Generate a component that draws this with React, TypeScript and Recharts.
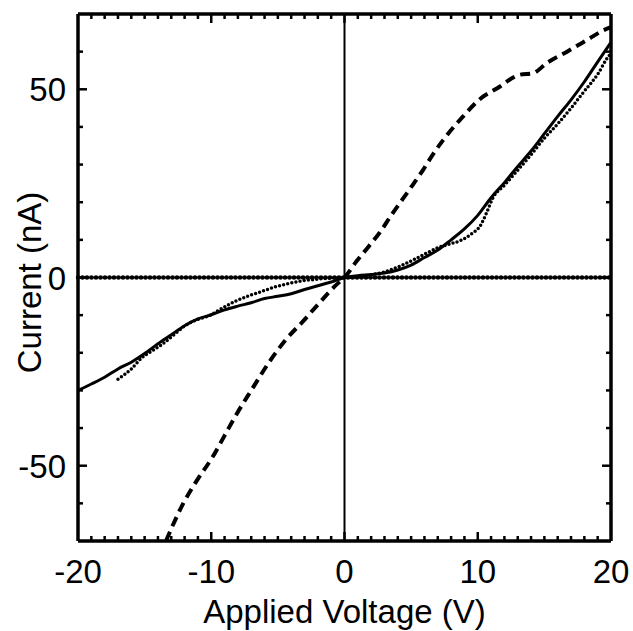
import React from 'react';
import { LineChart, Line, XAxis, YAxis, ReferenceLine } from 'recharts';

// Solid curve (V, nA)
const solidV = [-20, -19, -18, -17, -16, -15, -14, -13, -12, -11, -10, -9, -8, -7, -6, -5, -4, -3, -2, -1, 0, 1, 2, 3, 4, 5, 6, 7, 8, 9, 10, 11, 12, 13, 14, 15, 16, 17, 18, 19, 20];
const solidI = [-30, -28.3, -26.5, -24.3, -22.5, -20.2, -17.6, -15.2, -12.8, -11.0, -9.9, -8.6, -7.6, -6.7, -5.6, -5.0, -4.3, -3.2, -2.2, -1.2, 0, 0.5, 0.8, 1.2, 2.0, 3.3, 5.3, 7.3, 10.0, 12.9, 16.5, 21.2, 25.2, 29.5, 33.6, 38.2, 42.8, 47.2, 52.0, 57.3, 62.5];

// Fine-dotted curve
const dottedV = [-17, -16, -15.2, -14.5, -13.7, -12.8, -12, -11, -10.2, -9.2, -8.2, -7.2, -6.2, -5.2, -4.2, -3.2, -2.2, -1.2, 0, 1, 2, 3, 4, 5, 6, 7, 8, 8.7, 9.5, 10.2, 10.7, 11.1, 12, 13, 14, 15, 16, 17, 18, 19, 19.8, 20];
const dottedI = [-27.0, -24.3, -21.3, -19.6, -17.8, -15.2, -12.9, -11.1, -10.2, -8.2, -6.3, -4.9, -3.7, -2.5, -1.6, -0.9, -0.5, -0.2, 0, 0.2, 0.7, 1.5, 2.8, 4.4, 6.2, 7.9, 9.0, 9.8, 11.5, 13.8, 17.5, 20.9, 24.5, 28.5, 32.6, 37.0, 40.8, 45.0, 49.5, 54.0, 58.7, 59.5];

// Dashed curve
const dashedV = [-13.4, -12.1, -11, -9.9, -9, -8.1, -7, -5.6, -4.4, -3.1, -2, -0.6, 0, 0.9, 1.8, 2.7, 3.5, 4.4, 5.1, 5.9, 6.6, 7.4, 8.7, 10.2, 11.7, 12.5, 13.2, 14.1, 15.2, 16.7, 18.2, 19.5, 20];
const dashedI = [-70, -60, -53.5, -47.7, -42, -36.3, -30, -22.2, -16.5, -11.6, -7.2, -1.9, 0, 4.3, 8.2, 12.2, 16.5, 21, 24.5, 28.6, 32.5, 36.5, 42, 47.5, 50.8, 52.8, 53.9, 54.2, 57, 60, 63.1, 65.8, 66.5];

// Zero-current baseline (beaded)
const zeroV = [-20, 20];
const zeroI = [0, 0];

// Axis ticks
const xMajor = [-20, -10, 0, 10, 20];
const xTicks = [-20, -19, -18, -17, -16, -15, -14, -13, -12, -11, -10, -9, -8, -7, -6, -5, -4, -3, -2, -1, 0, 1, 2, 3, 4, 5, 6, 7, 8, 9, 10, 11, 12, 13, 14, 15, 16, 17, 18, 19, 20];
const yMajor = [-50, 0, 50];
const yTicks = [-60, -50, -40, -30, -20, -10, 0, 10, 20, 30, 40, 50, 60];

const X_DOMAIN: [number, number] = [-20, 20];
const Y_DOMAIN: [number, number] = [-70, 70];

const FONT = '"Liberation Sans", Arial, Helvetica, sans-serif';
const W = 633;
const H = 631;
const M = { top: 10, right: 18, bottom: 30, left: 18 };
const PLOT_LEFT = 78;
const PLOT_RIGHT = 611;
const PLOT_TOP = 14;
const PLOT_BOTTOM = 541;

// tick lengths in pixels converted to data units of each axis
const PX_PER_V = (PLOT_RIGHT - PLOT_LEFT) / (X_DOMAIN[1] - X_DOMAIN[0]);
const PX_PER_NA = (PLOT_BOTTOM - PLOT_TOP) / (Y_DOMAIN[1] - Y_DOMAIN[0]);
const MAJOR_LEN = 9;
const MINOR_LEN = 5;

const zip = (vs: number[], is: number[]) => vs.map((v, k) => ({ v, i: is[k] }));
const solidData = zip(solidV, solidI);
const dottedData = zip(dottedV, dottedI);
const dashedData = zip(dashedV, dashedI);
const zeroData = zip(zeroV, zeroI);

const TW = 2.5;

const BottomLabel = (props: any) => {
  const { x, y, payload } = props;
  if (!xMajor.includes(payload.value)) return <g />;
  return (
    <text x={x} y={y + 42} textAnchor="middle" fontSize={33} fontFamily={FONT} fill="#000">
      {payload.value}
    </text>
  );
};

const LeftLabel = (props: any) => {
  const { x, y, payload } = props;
  if (!yMajor.includes(payload.value)) return <g />;
  return (
    <text x={x - 12} y={y + 12} textAnchor="end" fontSize={33} fontFamily={FONT} fill="#000">
      {payload.value}
    </text>
  );
};

const axisLine = { stroke: '#000', strokeWidth: 3.5 };

export default function App() {
  const plotCx = (PLOT_LEFT + PLOT_RIGHT) / 2;
  const plotCy = (PLOT_TOP + PLOT_BOTTOM) / 2;

  const xTickMarks = xTicks
    .filter((v) => v > X_DOMAIN[0] && v < X_DOMAIN[1])
    .flatMap((v) => {
      const d = (xMajor.includes(v) ? MAJOR_LEN : MINOR_LEN) / PX_PER_NA;
      return [
        <ReferenceLine
          key={`xb${v}`}
          xAxisId="b"
          yAxisId="l"
          segment={[{ x: v, y: Y_DOMAIN[0] }, { x: v, y: Y_DOMAIN[0] + d }]}
          stroke="#000"
          strokeWidth={TW}
          ifOverflow="visible"
        />,
        <ReferenceLine
          key={`xt${v}`}
          xAxisId="b"
          yAxisId="l"
          segment={[{ x: v, y: Y_DOMAIN[1] }, { x: v, y: Y_DOMAIN[1] - d }]}
          stroke="#000"
          strokeWidth={TW}
          ifOverflow="visible"
        />,
      ];
    });

  const yTickMarks = yTicks.flatMap((v) => {
    const d = (yMajor.includes(v) ? MAJOR_LEN : MINOR_LEN) / PX_PER_V;
    return [
      <ReferenceLine
        key={`yl${v}`}
        xAxisId="b"
        yAxisId="l"
        segment={[{ x: X_DOMAIN[0], y: v }, { x: X_DOMAIN[0] + d, y: v }]}
        stroke="#000"
        strokeWidth={TW}
        ifOverflow="visible"
      />,
      <ReferenceLine
        key={`yr${v}`}
        xAxisId="b"
        yAxisId="l"
        segment={[{ x: X_DOMAIN[1], y: v }, { x: X_DOMAIN[1] - d, y: v }]}
        stroke="#000"
        strokeWidth={TW}
        ifOverflow="visible"
      />,
    ];
  });

  return (
    <div style={{ position: 'absolute', left: 0, top: 0, width: W, height: H, background: '#fff' }}>
      <LineChart width={W} height={H} margin={M}>
        <XAxis
          xAxisId="b"
          type="number"
          dataKey="v"
          domain={X_DOMAIN}
          ticks={xTicks}
          interval={0}
          orientation="bottom"
          height={H - M.bottom - PLOT_BOTTOM}
          tickSize={0}
          tickMargin={0}
          tickLine={false}
          axisLine={axisLine}
          tick={<BottomLabel />}
        />
        <XAxis
          xAxisId="t"
          type="number"
          dataKey="v"
          domain={X_DOMAIN}
          orientation="top"
          height={PLOT_TOP - M.top}
          tickLine={false}
          tick={false}
          axisLine={axisLine}
        />
        <YAxis
          yAxisId="l"
          type="number"
          domain={Y_DOMAIN}
          ticks={yTicks}
          interval={0}
          orientation="left"
          width={PLOT_LEFT - M.left}
          tickSize={0}
          tickMargin={0}
          tickLine={false}
          axisLine={axisLine}
          tick={<LeftLabel />}
        />
        <YAxis
          yAxisId="r"
          type="number"
          domain={Y_DOMAIN}
          orientation="right"
          width={W - M.right - PLOT_RIGHT}
          tickLine={false}
          tick={false}
          axisLine={axisLine}
        />
        {xTickMarks}
        {yTickMarks}
        <ReferenceLine xAxisId="b" yAxisId="l" x={0} stroke="#000" strokeWidth={2} />
        <ReferenceLine xAxisId="t" yAxisId="r" y={0} stroke="#000" strokeWidth={2} />
        <Line
          xAxisId="t"
          yAxisId="r"
          data={zeroData}
          dataKey="i"
          type="linear"
          stroke="#000"
          strokeWidth={4.5}
          strokeDasharray="0 4.5"
          strokeLinecap="round"
          dot={false}
          activeDot={false}
          isAnimationActive={false}
        />
        <Line
          xAxisId="b"
          yAxisId="l"
          data={dashedData}
          dataKey="i"
          type="monotone"
          stroke="#000"
          strokeWidth={4}
          strokeDasharray="10 6"
          dot={false}
          activeDot={false}
          isAnimationActive={false}
        />
        <Line
          xAxisId="b"
          yAxisId="l"
          data={dottedData}
          dataKey="i"
          type="monotone"
          stroke="#000"
          strokeWidth={3.5}
          strokeDasharray="0 4.2"
          strokeLinecap="round"
          dot={false}
          activeDot={false}
          isAnimationActive={false}
        />
        <Line
          xAxisId="b"
          yAxisId="l"
          data={solidData}
          dataKey="i"
          type="monotone"
          stroke="#000"
          strokeWidth={3}
          dot={false}
          activeDot={false}
          isAnimationActive={false}
        />
        <text x={plotCx} y={623} textAnchor="middle" fontSize={33} fontFamily={FONT} fill="#000">
          Applied Voltage (V)
        </text>
        <text
          x={41}
          y={plotCy + 5}
          textAnchor="middle"
          fontSize={33}
          fontFamily={FONT}
          fill="#000"
          transform={`rotate(-90, 41, ${plotCy + 5})`}
        >
          Current (nA)
        </text>
      </LineChart>
    </div>
  );
}
